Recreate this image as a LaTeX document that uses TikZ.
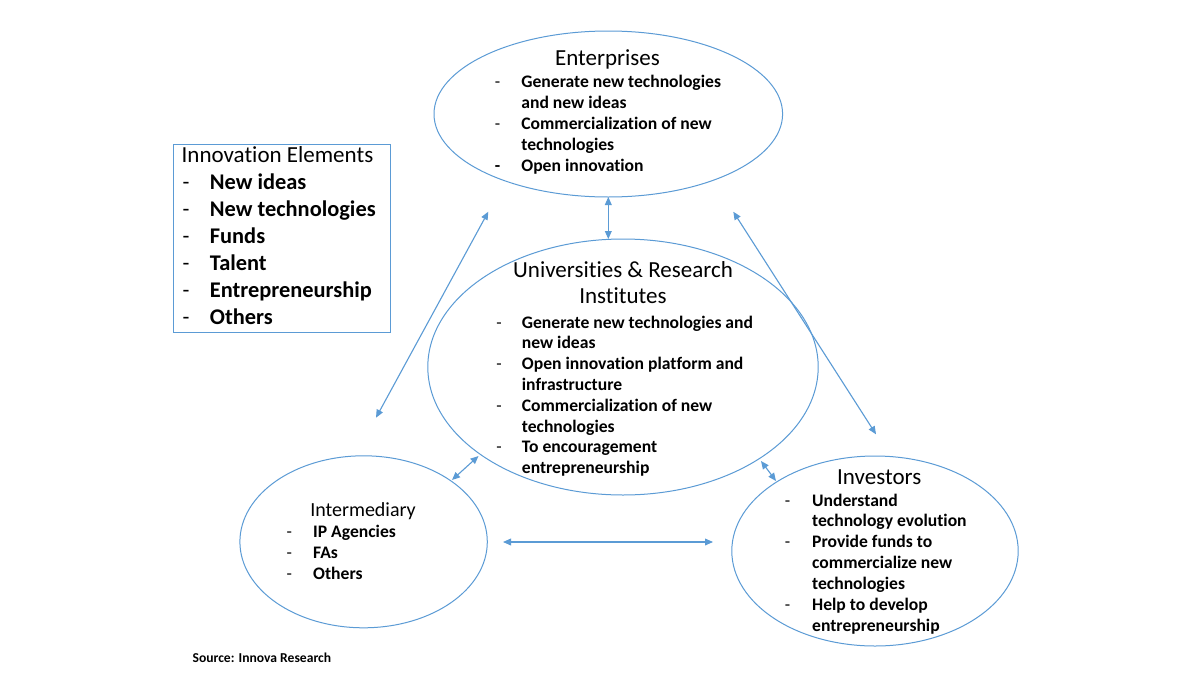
\documentclass[tikz,border=0pt]{standalone}
\usepackage{fontspec}
\setmainfont{Carlito}[RawFeature={-liga;-clig;-dlig;-rlig;-hlig;-calt}]
\usetikzlibrary{shapes.geometric,arrows.meta}
\definecolor{lb}{HTML}{5B9BD5}
\newcommand\bl[2][13.3pt]{\llap{\makebox[#1][l]{\mdseries -}}#2}
\newcommand\bbl[2][13.3pt]{\llap{\makebox[#1][l]{-}}#2}
\tikzset{
  oval/.style={ellipse, draw=lb, line width=0.5pt, inner sep=0pt, outer sep=0pt},
  ttl/.style={font=\fontsize{11.5}{13.2}\selectfont, inner sep=0pt, anchor=base},
  itm/.style={font=\bfseries\fontsize{8.8}{10.45}\selectfont, inner sep=0pt, anchor=base west},
  big/.style={font=\bfseries\fontsize{11.2}{13.55}\selectfont, inner sep=0pt, anchor=base west},
  link/.style={draw=lb, line width=0.55pt, {Triangle[length=4pt,width=3.4pt]}-{Triangle[length=4pt,width=3.4pt]}},
}
\begin{document}
\begin{tikzpicture}[x=0.5pt,y=-0.5pt]
\fill[white] (0,0) rectangle (1200,675);
\useasboundingbox (0,0) rectangle (1200,675);

% ellipses
\node[oval, minimum width=174.3pt, minimum height=83pt] (ent) at (608.3,114) {};
\node[oval, minimum width=195.2pt, minimum height=128pt] (uni) at (623,367) {};
\node[oval, minimum width=123.7pt, minimum height=86pt] (int) at (363.6,541.8) {};
\node[oval, minimum width=143.2pt, minimum height=95pt] (inv) at (875,551) {};

% innovation elements box
\node[draw=lb, line width=0.5pt, inner sep=0pt, minimum width=108.35pt, minimum height=94.35pt] (box) at (281.65,238.35) {};
\node[ttl, anchor=base west] (boxtitle) at (181.3,162.5) {Innovation Elements};
\node[big] (boxlist) at (209.5,189.3) {\begin{tabular}[t]{@{}l@{}}
\bl[13.7pt]{New ideas}\\
\bl[13.7pt]{New technologies}\\
\bl[13.7pt]{Funds}\\
\bl[13.7pt]{Talent}\\
\bl[13.7pt]{Entrepreneurship}\\
\bl[13.7pt]{Others}
\end{tabular}};

% Enterprises
\node[ttl] (enttitle) at (607.5,65.5) {Enterprises};
\node[itm, font=\bfseries\fontsize{8.8}{10.55}\selectfont] (entlist) at (521,87.5) {\begin{tabular}[t]{@{}l@{}}
\bl{Generate new technologies}\\
\hspace*{0pt}and new ideas\\
\bl{Commercialization of new}\\
technologies\\
\bbl{Open innovation}
\end{tabular}};

% Universities
\node[ttl] (unititle) at (623,277) {\begin{tabular}[t]{@{}c@{}}Universities \& Research\\Institutes\end{tabular}};
\node[itm, font=\bfseries\fontsize{8.8}{10.4}\selectfont] (unilist) at (521.5,328) {\begin{tabular}[t]{@{}l@{}}
\bl[12.8pt]{Generate new technologies and}\\
new ideas\\
\bl[12.8pt]{Open innovation platform and}\\
infrastructure\\
\bl[12.8pt]{Commercialization of new}\\
technologies\\
\bl[12.8pt]{To encouragement}\\
entrepreneurship
\end{tabular}};

% Intermediary
\node[ttl, font=\fontsize{10}{12}\selectfont] (inttitle) at (363,516.7) {Intermediary};
\node[itm, font=\bfseries\fontsize{8.8}{10.5}\selectfont] (intlist) at (312.8,537.3) {\begin{tabular}[t]{@{}l@{}}
\bl{IP Agencies}\\
\bl{FAs}\\
\bl{Others}
\end{tabular}};

% Investors
\node[ttl] (invtitle) at (879.2,484.3) {Investors};
\node[itm, font=\bfseries\fontsize{8.8}{10.47}\selectfont] (invlist) at (811.8,506) {\begin{tabular}[t]{@{}l@{}}
\bl[13.65pt]{Understand}\\
technology evolution\\
\bl[13.65pt]{Provide funds to}\\
commercialize new\\
technologies\\
\bl[13.65pt]{Help to develop}\\
entrepreneurship
\end{tabular}};

% source
\node[font=\bfseries\fontsize{6.8}{8}\selectfont, anchor=base west, inner sep=0pt] (src) at (192.2,662.7) {Source: Innova Research};

% connector end points
\coordinate (a1) at (488.3,211.7);
\coordinate (a2) at (376,417.7);
\coordinate (b1) at (733.3,211.7);
\coordinate (b2) at (876,434.3);
\coordinate (c1) at (478.5,456);
\coordinate (c2) at (452,480);
\coordinate (d1) at (761,461);
\coordinate (d2) at (776,481);
\coordinate (h1) at (503,542);
\coordinate (h2) at (713,542);

% connectors
\draw[link] (ent.south) -- (ent.south |- uni.north);
\draw[link] (a1) -- (a2);
\draw[link] (b1) -- (b2);
\draw[link] (c1) -- (c2);
\draw[link] (d1) -- (d2);
\draw[link] (h1) -- (h2);
\end{tikzpicture}
\end{document}
